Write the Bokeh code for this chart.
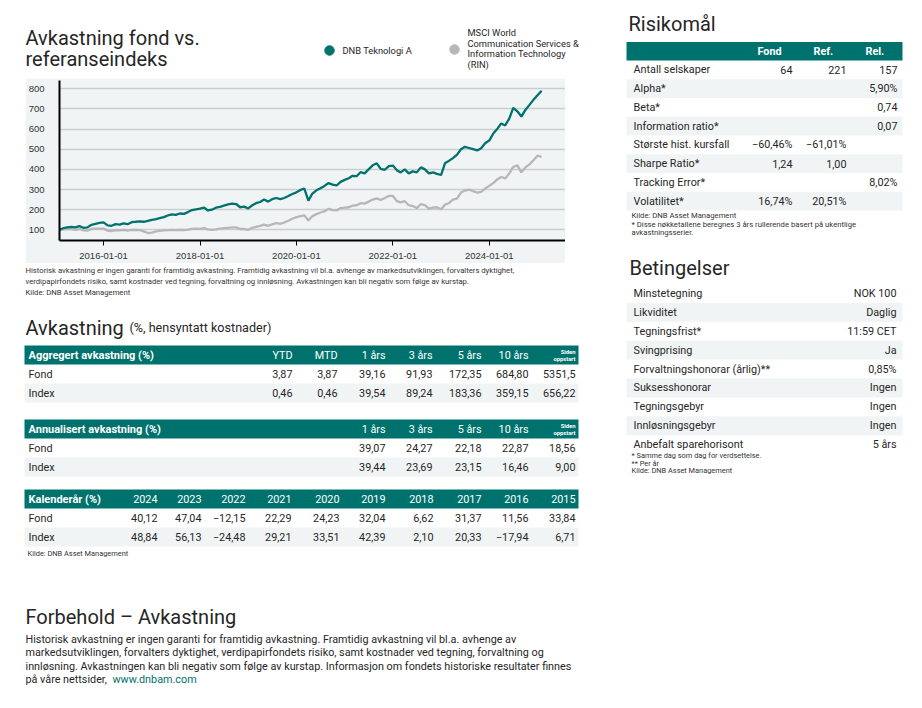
import pandas as pd
from bokeh.plotting import figure
from bokeh.models import Range1d, FixedTicker, DatetimeTickFormatter, Spacer
from bokeh.layouts import row, column
from bokeh.embed import file_html
from bokeh.resources import INLINE
from bokeh.core.properties import value

# ---------------- data ----------------
fund_2015 = [100, 108, 112, 115, 112, 118, 110, 112, 125, 130, 134]
fund_2016 = [137, 122, 120, 128, 126, 132, 128, 138, 140, 142, 140, 144]
fund_2017 = [149, 153, 158, 163, 171, 177, 174, 181, 179, 188, 198, 202]
fund_2018 = [205, 210, 196, 200, 210, 214, 220, 226, 230, 228, 212, 215]
fund_2019 = [206, 222, 232, 238, 250, 240, 252, 258, 252, 258, 268, 278]
fund_2020 = [286, 298, 305, 245, 280, 296, 306, 318, 332, 324, 320, 338]
fund_2021 = [348, 356, 368, 366, 386, 380, 400, 420, 430, 402, 398, 416]
fund_2022 = [419, 395, 385, 400, 380, 390, 385, 410, 400, 380, 385, 378]
fund_2023 = [372, 432, 442, 456, 472, 500, 512, 506, 500, 494, 505, 530]
fund_2024 = [543, 578, 600, 628, 618, 652, 705, 688, 662, 695, 720, 745]
fund_2025 = [768, 790]

index_2015 = [100, 102, 103, 104, 100, 104, 97, 96, 104, 106, 106]
index_2016 = [106, 96, 94, 98, 97, 100, 96, 100, 99, 98, 92, 84]
index_2017 = [86, 92, 95, 97, 98, 100, 98, 100, 99, 101, 105, 106]
index_2018 = [105, 108, 102, 100, 102, 106, 108, 110, 112, 112, 104, 104]
index_2019 = [100, 110, 115, 120, 126, 120, 127, 133, 130, 136, 145, 155]
index_2020 = [163, 168, 172, 146, 168, 178, 186, 192, 204, 198, 196, 208]
index_2021 = [210, 212, 220, 222, 232, 230, 240, 250, 256, 248, 258, 268]
index_2022 = [268, 242, 236, 242, 222, 218, 208, 228, 222, 205, 210, 212]
index_2023 = [202, 225, 232, 250, 255, 285, 295, 300, 292, 285, 288, 305]
index_2024 = [318, 332, 350, 362, 355, 380, 412, 420, 385, 410, 425, 445]
index_2025 = [468, 462]

y_ticks = [100, 200, 300, 400, 500, 600, 700, 800]
x_tick_dates = ["2016-01-01", "2018-01-01", "2020-01-01", "2022-01-01", "2024-01-01"]

agg_cols = ["YTD", "MTD", "1 års", "3 års", "5 års", "10 års", "Siden oppstart"]
agg_fond = ["3,87", "3,87", "39,16", "91,93", "172,35", "684,80", "5351,5"]
agg_index = ["0,46", "0,46", "39,54", "89,24", "183,36", "359,15", "656,22"]

ann_cols = ["1 års", "3 års", "5 års", "10 års", "Siden oppstart"]
ann_fond = ["39,07", "24,27", "22,18", "22,87", "18,56"]
ann_index = ["39,44", "23,69", "23,15", "16,46", "9,00"]

cal_years = ["2024", "2023", "2022", "2021", "2020", "2019", "2018", "2017", "2016", "2015"]
cal_fond = ["40,12", "47,04", "−12,15", "22,29", "24,23", "32,04", "6,62", "31,37", "11,56", "33,84"]
cal_index = ["48,84", "56,13", "−24,48", "29,21", "33,51", "42,39", "2,10", "20,33", "−17,94", "6,71"]

risk_labels = ["Antall selskaper", "Alpha*", "Beta*", "Information ratio*",
               "Største hist. kursfall", "Sharpe Ratio*", "Tracking Error*", "Volatilitet*"]
risk_fond = ["64", "", "", "", "−60,46%", "1,24", "", "16,74%"]
risk_ref = ["221", "", "", "", "−61,01%", "1,00", "", "20,51%"]
risk_rel = ["157", "5,90%", "0,74", "0,07", "", "", "8,02%", ""]

terms_labels = ["Minstetegning", "Likviditet", "Tegningsfrist*", "Svingprising",
                "Forvaltningshonorar (årlig)**", "Suksesshonorar", "Tegningsgebyr",
                "Innløsningsgebyr", "Anbefalt sparehorisont"]
terms_values = ["NOK 100", "Daglig", "11:59 CET", "Ja", "0,85%", "Ingen", "Ingen", "Ingen", "5 års"]

fund_values = (fund_2015 + fund_2016 + fund_2017 + fund_2018 + fund_2019 + fund_2020
               + fund_2021 + fund_2022 + fund_2023 + fund_2024 + fund_2025)
index_values = (index_2015 + index_2016 + index_2017 + index_2018 + index_2019 + index_2020
                + index_2021 + index_2022 + index_2023 + index_2024 + index_2025)
dates = pd.date_range("2015-02-01", periods=len(fund_values), freq="MS")

# ---------------- style ----------------
TEAL = "#00726d"
GREY_LINE = "#b7b7b7"
BAND = "#f1f4f5"
CHART_BG = "#f1f4f5"
TXT = "#262626"
FONT = "Roboto"
TS = "10.8px"


def canvas(x0, y0, w, h):
    p = figure(width=w, height=h, x_range=Range1d(x0, x0 + w), y_range=Range1d(y0 + h, y0),
               output_backend="svg", toolbar_location=None, min_border=0,
               x_axis_location=None, y_axis_location=None)
    p.outline_line_color = None
    p.xgrid.visible = False
    p.ygrid.visible = False
    p.background_fill_color = "white"
    p.border_fill_color = "white"
    return p


def txt(p, xs, ys, texts, size, color=TXT, align="left", bold=False, font=FONT, baseline="middle"):
    p.text(x=xs, y=ys, text=texts, text_font=value(font), text_font_size=size,
           text_color=color, text_align=align, text_baseline=baseline,
           text_font_style="bold" if bold else "normal")


def band(p, left, right, top, bottom, color):
    p.quad(left=[left], right=[right], top=[top], bottom=[bottom], fill_color=color, line_color=None)


# ---------------- top (title + legend) ----------------
top_fig = canvas(0, 0, 608, 78)
txt(top_fig, [25, 25], [37, 58.5], ["Avkastning fond vs.", "referanseindeks"], "20px", baseline="alphabetic")
top_fig.scatter([329], [50], size=9.5, color=TEAL)
txt(top_fig, [342], [50], ["DNB Teknologi A"], "9.3px")
top_fig.scatter([454], [49], size=9.5, color=GREY_LINE)
txt(top_fig, [467] * 4, [31.5, 42.5, 53, 63.5],
    ["MSCI World", "Communication Services &", "Information Technology", "(RIN)"], "9.3px")

# ---------------- chart ----------------
chart = figure(width=540, height=185, x_axis_type="datetime", output_backend="svg",
               toolbar_location=None,
               x_range=Range1d(pd.Timestamp("2015-02-01"), pd.Timestamp("2025-08-01")),
               y_range=Range1d(47, 841),
               min_border_left=31, min_border_right=0, min_border_top=2, min_border_bottom=23)
chart.background_fill_color = CHART_BG
chart.border_fill_color = CHART_BG
chart.outline_line_color = None
chart.xgrid.visible = False
yt = FixedTicker(ticks=y_ticks)
chart.yaxis.ticker = yt
chart.ygrid.ticker = yt
chart.ygrid.grid_line_color = "#c9cdcf"
chart.ygrid.grid_line_width = 1.4
chart.xaxis.ticker = FixedTicker(ticks=[pd.Timestamp(d).value // 10**6 for d in x_tick_dates])
chart.xaxis.formatter = DatetimeTickFormatter(days="%Y-%m-%d", months="%Y-%m-%d", years="%Y-%m-%d")
for ax in (chart.xaxis, chart.yaxis):
    ax.axis_line_color = "black"
    ax.axis_line_width = 2
    ax.minor_tick_line_color = None
    ax.major_label_text_font = "Liberation Sans"
    ax.major_label_text_font_size = "9.5px"
    ax.major_label_text_color = "#333333"
chart.yaxis.major_tick_line_color = None
chart.yaxis.major_label_standoff = 9
chart.xaxis.major_tick_line_color = "black"
chart.xaxis.major_tick_out = 5
chart.xaxis.major_tick_in = 0
chart.xaxis.major_label_standoff = 7

chart.line(dates, index_values, color=GREY_LINE, line_width=2.3)
chart.line(dates, fund_values, color=TEAL, line_width=2.3)

chart_row = row(Spacer(width=25, height=185), chart, Spacer(width=43, height=185))

# ---------------- bottom-left (notes + tables) ----------------
bot = canvas(0, 263, 608, 437)
txt(bot, [25] * 3, [270, 281, 292],
    ["Historisk avkastning er ingen garanti for framtidig avkastning. Framtidig avkastning vil bl.a. avhenge av markedsutviklingen, forvalters dyktighet,",
     "verdipapirfondets risiko, samt kostnader ved tegning, forvaltning og innløsning. Avkastningen kan bli negativ som følge av kurstap.",
     "Kilde: DNB Asset Management"], "7.7px", color="#333333")

txt(bot, [25], [327], ["Avkastning"], "20px", baseline="alphabetic")
txt(bot, [129], [327], ["(%, hensyntatt kostnader)"], "12.6px", baseline="alphabetic")

RH = 19


def left_table(p, top, title, col_right, headers, rows):
    band(p, 24, 578, top, top + RH, TEAL)
    mid = top + RH / 2
    txt(p, [28], [mid], [title], "11px", color="white", bold=True)
    for h, x in zip(headers, col_right):
        if h == "Siden oppstart":
            txt(p, [x, x], [mid - 3.2, mid + 3.6], ["Siden", "oppstart"], "5.8px", color="white",
                align="right", bold=True)
        else:
            txt(p, [x], [mid], [h], TS, color="white", align="right")
    for i, (label, vals) in enumerate(rows):
        t = top + RH * (i + 1)
        if i % 2 == 1:
            band(p, 24, 578, t, t + RH, BAND)
        m = t + RH / 2
        txt(p, [28], [m], [label], TS)
        txt(p, col_right, [m] * len(vals), vals, TS, align="right")


left_table(bot, 345, "Aggregert avkastning (%)", [292, 337, 385, 432, 481, 528, 575], agg_cols,
           [("Fond", agg_fond), ("Index", agg_index)])
left_table(bot, 419, "Annualisert avkastning (%)", [385, 432, 481, 528, 575], ann_cols,
           [("Fond", ann_fond), ("Index", ann_index)])
left_table(bot, 489, "Kalenderår (%)", [157, 201, 245, 291, 339, 385, 433, 481, 528, 575], cal_years,
           [("Fond", cal_fond), ("Index", cal_index)])
txt(bot, [27], [553], ["Kilde: DNB Asset Management"], "7.4px", color="#333333")

txt(bot, [25], [616.5], ["Forbehold – Avkastning"], "20px", baseline="alphabetic")
txt(bot, [25] * 3, [638.5, 652, 665.5],
    ["Historisk avkastning er ingen garanti for framtidig avkastning. Framtidig avkastning vil bl.a. avhenge av",
     "markedsutviklingen, forvalters dyktighet, verdipapirfondets risiko, samt kostnader ved tegning, forvaltning og",
     "innløsning. Avkastningen kan bli negativ som følge av kurstap. Informasjon om fondets historiske resultater finnes"],
    "10.8px")
txt(bot, [25], [679], ["på våre nettsider, "], "10.8px")
txt(bot, [112], [679], ["www.dnbam.com"], "10.8px", color=TEAL)

left_col = column(top_fig, chart_row, bot)

# ---------------- right column ----------------
rf = canvas(608, 0, 306, 700)
txt(rf, [628], [23], ["Risikomål"], "20px", baseline="alphabetic")
band(rf, 626, 902, 41.5, 60, TEAL)
txt(rf, [757, 813, 865], [51, 51, 51], ["Fond", "Ref.", "Rel."], TS, color="white", bold=True)
RRH = 18.75
for i, lab in enumerate(risk_labels):
    t = 60 + RRH * i
    if i % 2 == 1:
        band(rf, 626, 902, t, t + RRH, BAND)
    m = t + RRH / 2
    txt(rf, [633], [m], [lab], TS)
    txt(rf, [792, 846, 897], [m] * 3, [risk_fond[i], risk_ref[i], risk_rel[i]], TS, align="right")
txt(rf, [631] * 3, [215, 224, 232],
    ["Kilde: DNB Asset Management",
     "* Disse nøkketallene beregnes 3 års rullerende basert på ukentlige",
     "avkastningsserier."], "7.7px", color="#333333")

txt(rf, [629], [267], ["Betingelser"], "20px", baseline="alphabetic")
TRH = 18.9
for i, lab in enumerate(terms_labels):
    t = 283.5 + TRH * i
    if i % 2 == 1:
        band(rf, 626, 902, t, t + TRH, BAND)
    m = t + TRH / 2
    txt(rf, [633], [m], [lab], TS)
    txt(rf, [896], [m], [terms_values[i]], TS, align="right")
txt(rf, [631] * 3, [455, 462.5, 470],
    ["* Samme dag som dag for verdsettelse.", "** Per år", "Kilde: DNB Asset Management"],
    "7.4px", color="#333333")

layout = row(left_col, rf)
open("out.html", "w").write(file_html(layout, INLINE))
